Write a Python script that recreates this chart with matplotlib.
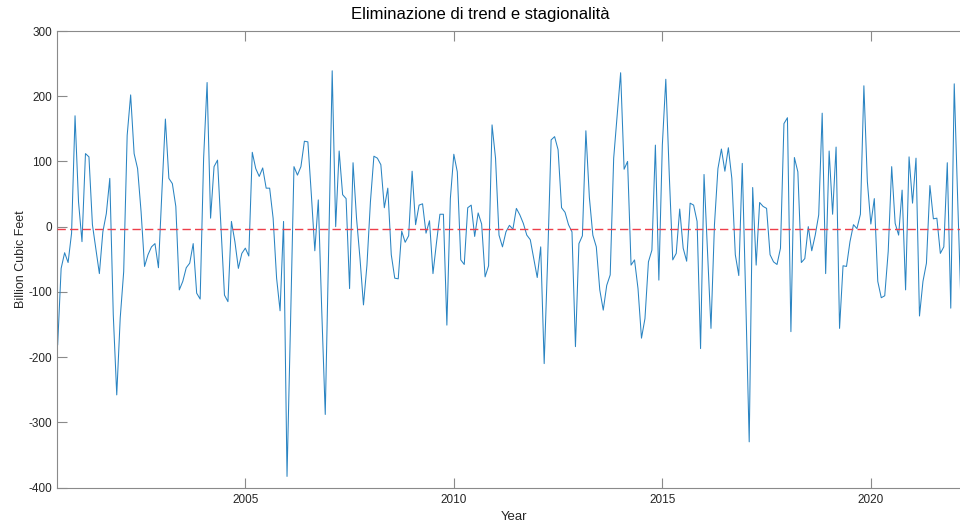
import numpy as np
import matplotlib
matplotlib.use('Agg')
import matplotlib.pyplot as plt

# residual series after removing trend and seasonality (monthly, from Jul 2000)
start_year = 2000.5
residuals = [
    -181, -64, -40, -55, -10, 170, 38, -23, 112, 107, 3, -35,
    -72, -8, 20, 74, -135, -258, -140, -69, 140, 202, 112, 89,
    23, -61, -43, -31, -26, -63, 54, 165, 74, 66, 31, -97,
    -84, -63, -56, -26, -102, -111, 105, 221, 13, 92, 102, 0,
    -105, -115, 8, -23, -64, -41, -33, -45, 114, 89, 77, 90,
    59, 59, 13, -79, -129, 8, -383, -150, 92, 79, 92, 131,
    130, 49, -37, 41, -130, -288, -30, 239, 0, 116, 49, 43,
    -95, 98, 13, -49, -120, -59, 38, 108, 105, 95, 29, 59,
    -43, -79, -80, -7, -24, -14, 85, 3, 33, 35, -10, 9,
    -72, -25, 19, 19, -151, 43, 111, 84, -51, -58, 29, 33,
    -15, 21, 4, -77, -60, 156, 105, -13, -31, -8, 2, -4,
    28, 18, 5, -13, -20, -49, -78, -31, -210, -50, 133, 138,
    118, 29, 22, 3, -8, -184, -26, -14, 147, 45, -13, -31,
    -97, -128, -90, -74, 105, 171, 236, 88, 100, -59, -51, -95,
    -171, -141, -54, -36, 125, -82, 125, 226, 79, -51, -41, 27,
    -33, -53, 36, 33, 8, -187, 80, -38, -156, 3, 89, 119,
    85, 121, 74, -43, -75, 97, -110, -330, 60, -59, 37, 31,
    28, -43, -54, -58, -33, 158, 167, -161, 106, 84, -55, -49,
    0, -37, -13, 18, 174, -72, 116, 19, 122, -156, -60, -61,
    -23, 3, -3, 19, 216, 69, 4, 43, -84, -109, -106, -38,
    92, 5, -13, 56, -97, 107, 36, 105, -137, -84, -56, 63,
    12, 13, -41, -31, 98, -125, 219, 40, -130,
]
mean_level = -3.5

x_ticks = [2005, 2010, 2015, 2020]
y_ticks = [-400, -300, -200, -100, 0, 100, 200, 300]

plt.rcParams['font.family'] = ['Liberation Sans', 'DejaVu Sans']
plt.rcParams['axes.unicode_minus'] = False

years = start_year + np.arange(len(residuals)) / 12

fig = plt.figure(figsize=(9.6, 5.27), dpi=100)
# the axes run a little past the right edge of the figure
ax = fig.add_axes([57 / 960, 39.5 / 527, 914 / 960, 456.5 / 527])

ax.plot(years, residuals, color='#2a84c2', linewidth=0.75)
ax.axhline(mean_level, color='#ee3e4a', linestyle=(0, (6, 3)),
           linewidth=1.0, zorder=3)

ax.set_xlim(2000.484, 2022.402)
ax.set_ylim(-400, 300)
ax.set_xticks(x_ticks)
ax.set_yticks(y_ticks)

for side in ['left', 'top', 'bottom']:
    ax.spines[side].set_color('#8a8a8a')
    ax.spines[side].set_linewidth(0.8)
ax.spines['right'].set_visible(False)
ax.tick_params(direction='in', length=7, width=0.8, color='#8a8a8a',
               labelcolor='#262626', labelsize=8.5, top=True, right=False)
ax.tick_params(axis='x', pad=5)

# title is centred on the whole figure
fig.text(0.5, 1 - 14 / 527, 'Eliminazione di trend e stagionalità',
         fontsize=12, color='black', ha='center', va='center')
ax.set_xlabel('Year', fontsize=9.5, color='#262626', labelpad=3)
ax.set_ylabel('Billion Cubic Feet', fontsize=9, color='#262626', labelpad=1)

fig.savefig('out.png', dpi=100)
